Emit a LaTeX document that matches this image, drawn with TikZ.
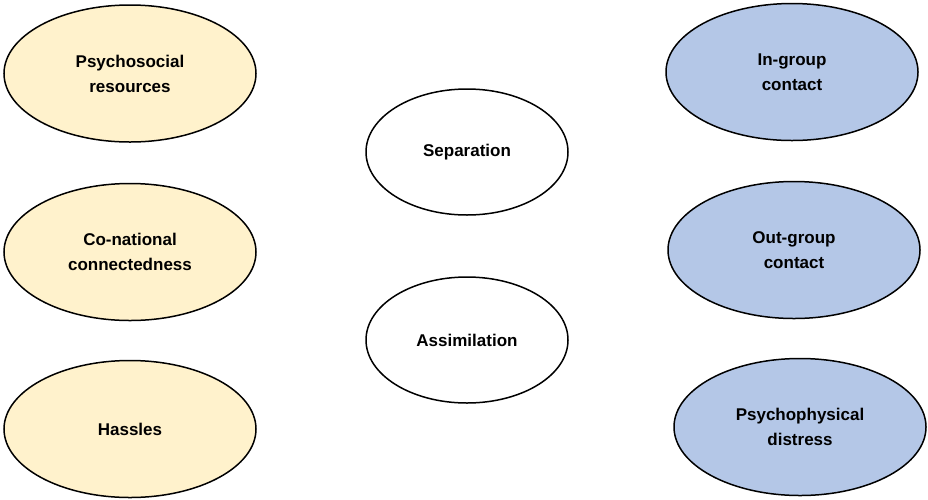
\documentclass[tikz,border=0pt]{standalone}
\usepackage{fontspec}
\setmainfont{Liberation Sans}
\usetikzlibrary{shapes.geometric}
\definecolor{ylw}{RGB}{255,242,204}
\definecolor{blu}{RGB}{180,199,231}
\begin{document}
\begin{tikzpicture}[x=1pt,y=-1pt,
  oval/.style={ellipse, draw=black, line width=1.5pt, inner sep=0pt,
    align=center, font=\fontsize{17}{25}\selectfont\bfseries},
  side/.style={oval, minimum width=252pt, minimum height=137pt},
  mid/.style={oval, fill=white, minimum width=202pt, minimum height=126pt},
  yel/.style={side, fill=ylw},
  bl/.style={side, fill=blu}]
\useasboundingbox (0,0) rectangle (928,499);
\node[yel] (psr) at (130,73.5) {Psychosocial\\resources};
\node[yel] (con) at (130,252) {Co-national\\connectedness};
\node[yel] (has) at (130,429) {Hassles};
\node[mid] (sep) at (467,152) {Separation};
\node[mid] (ass) at (467,340) {Assimilation};
\node[bl] (ing) at (792,72) {In-group\\contact};
\node[bl] (outg) at (794,250) {Out-group\\contact};
\node[bl] (psd) at (800,427) {Psychophysical\\distress};
\end{tikzpicture}
\end{document}
